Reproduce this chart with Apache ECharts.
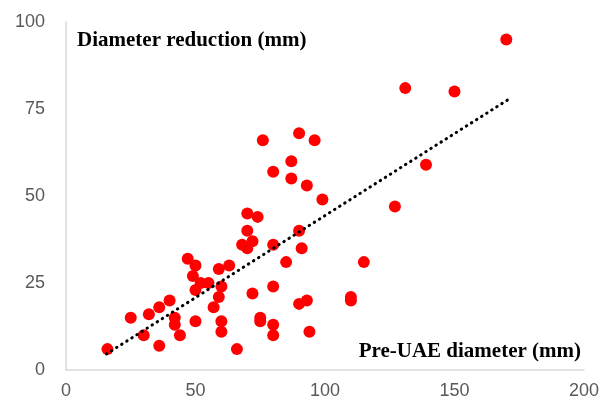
<!DOCTYPE html>
<html><head><meta charset="utf-8">
<script src="https://cdn.jsdelivr.net/npm/echarts@6/dist/echarts.min.js"></script>
<style>html,body{margin:0;padding:0;background:#fff}#c{width:602px;height:410px}</style>
</head><body><div id="c"></div>
<script>
const preUAE = [16,25,32,30,36,36,40,42,42,44,47,50,49,52,50,55,50,57,59,63,60,59,60,60,66,70,74,70,68,70,72,72,75,75,80,80,80,80,85,90,91,90,93,94,115,110,110,99,127,170,131,150,90,96,87,87,93,139,76,80];
const reduction = [6,15,16,10,18,7,20,15,13,10,32,30,27,25,23,25,14,18,29,30,24,21,14,11,6,45,44,40,36,35,37,22,15,14,36,24,13,10,31,40,35,19,20,11,31,21,20,49,47,95,81,80,68,66,60,55,53,59,66,57];
const trendX = [15.6, 170.5];
const trendY = [4.6, 77.6];
const xTicks = [0,50,100,150,200];
const yTicks = [0,25,50,75,100];

const chart = echarts.init(document.getElementById('c'));
const labelColor = '#595959';
chart.setOption({
  animation: false,
  grid: {left: 66, right: 16, top: 22, bottom: 40, containLabel: false},
  title: [
    {text: 'Diameter reduction (mm)', left: 72, top: 25,
     textStyle: {fontFamily: 'Liberation Serif', fontWeight: 'bold', fontSize: 21, color: '#000'}},
    {text: 'Pre-UAE diameter (mm)', right: 16, top: 336,
     textStyle: {fontFamily: 'Liberation Serif', fontWeight: 'bold', fontSize: 21, color: '#000'}}
  ],
  xAxis: {
    type: 'value', min: xTicks[0], max: xTicks[xTicks.length-1], interval: 50,
    axisLine: {show: true, lineStyle: {color: '#d9d9d9', width: 1.5}},
    axisTick: {show: false}, splitLine: {show: false},
    axisLabel: {color: labelColor, fontSize: 18, fontFamily: 'Liberation Sans', margin: 12}
  },
  yAxis: {
    type: 'value', min: yTicks[0], max: yTicks[yTicks.length-1], interval: 25,
    axisLine: {show: true, lineStyle: {color: '#d9d9d9', width: 1.5}},
    axisTick: {show: false}, splitLine: {show: false},
    axisLabel: {color: labelColor, fontSize: 18, fontFamily: 'Liberation Sans', margin: 21}
  },
  series: [
    {type: 'line', data: trendX.map((x,i)=>[x, trendY[i]]), symbol: 'none',
     lineStyle: {color: '#000', width: 3, type: [0.5, 5.5], cap: 'round'}, z: 3},
    {type: 'scatter', data: preUAE.map((x,i)=>[x, reduction[i]]), symbolSize: 12,
     itemStyle: {color: '#ff0000', opacity: 1}, z: 2}
  ]
});
</script></body></html>
